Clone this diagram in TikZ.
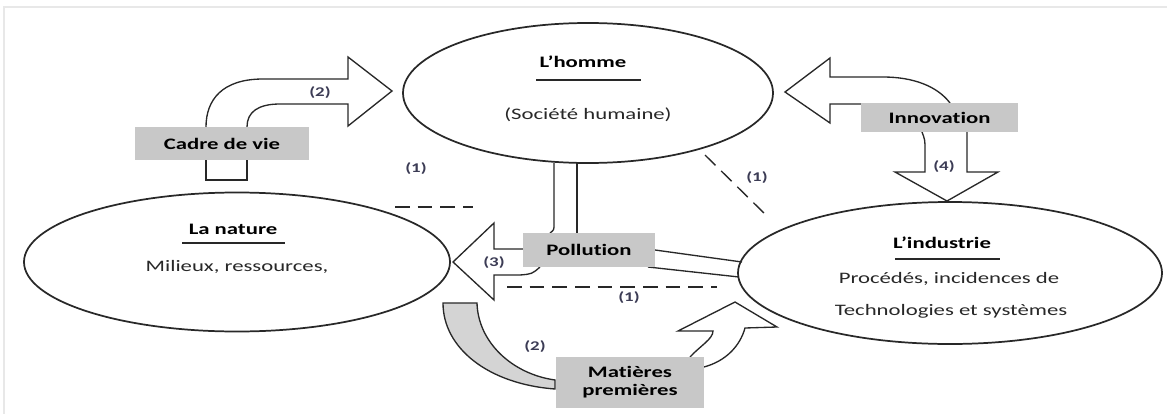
\documentclass[tikz,border=0pt]{standalone}
\usepackage{fontspec}
\setmainfont{Carlito}[FakeStretch=1.42, Ligatures=NoCommon]
\usetikzlibrary{shapes.geometric}
\definecolor{boxgray}{RGB}{200,200,200}
\definecolor{bandgray}{RGB}{212,212,212}
\definecolor{ink}{RGB}{40,40,40}
\definecolor{numink}{RGB}{60,60,85}
\definecolor{framegray}{RGB}{232,232,232}

\begin{document}
\begin{tikzpicture}[x=0.75pt,y=-0.75pt,
  pole/.style={ellipse, draw=ink, line width=1.3pt, inner sep=0pt, outer sep=0pt},
  tag/.style={fill=boxgray, inner sep=0pt, outer sep=0pt, align=center,
    font=\bfseries\fontsize{12}{13.5}\selectfont, text=black},
  block/.style={draw=ink, line width=1pt, line join=miter},
  link/.style={draw=ink, line width=1pt, dash pattern=on 11pt off 6pt},
  num/.style={font=\bfseries\fontsize{10}{12}\selectfont, text=numink, inner sep=0pt},
  title/.style={font=\bfseries\fontsize{12}{14}\selectfont, text=black, inner sep=0pt},
  body/.style={font=\fontsize{12}{14}\selectfont, text=ink, inner sep=0pt},
  rule/.style={draw=ink, line width=1.2pt}]

\useasboundingbox (0,0) rectangle (1167,414);
\fill[white] (0,0) rectangle (1167,414);
% faint page frame
\draw[framegray, line width=0.8pt] (4,414) -- (4,7) -- (1167,7);

% the three poles
\node[pole, minimum width=370*0.75pt, minimum height=140*0.75pt] (homme) at (588,93) {};
\node[pole, minimum width=426*0.75pt, minimum height=139*0.75pt] (nature) at (237,262) {};
\node[pole, minimum width=424*0.75pt, minimum height=142*0.75pt] (industrie) at (950,273) {};

% texts of the poles
\node[title] (hommeT) at (583,62) {L’homme};
\draw[rule] (536,80) -- (641,80);
\node[body] (hommeB) at (588,115) {(Société humaine)};

\node[title] (natureT) at (233,229) {La nature};
\draw[rule] (182,243) -- (285,243);
\node[body] (natureB) at (237,267) {Milieux, ressources,};

\node[title] (industrieT) at (942,243) {L’industrie};
\draw[rule] (895,259) -- (1000,259);
\node[body] (industrieB1) at (949,279) {Procédés, incidences de};
\node[body] (industrieB2) at (951,311) {Technologies et systèmes};

% block arrow: cadre de vie -> homme
\draw[block] (206,127) .. controls (206,100) and (222,79) .. (263,79) -- (348,79)
  -- (348,57) -- (392,91) -- (348,126) -- (348,104) -- (280,104)
  .. controls (258,104) and (247,112) .. (247,127);
\draw[block] (206,160) -- (206,180) -- (247,180) -- (247,160);

% block arrow: innovation -> homme
\draw[block] (950,103) .. controls (937,86) and (913,77) .. (883,77) -- (830,77)
  -- (830,58) -- (785,92) -- (830,123) -- (830,104) -- (861,104);
% block arrow: innovation -> industrie
\draw[block] (922,132) .. controls (925,140) .. (925,150) -- (925,172) -- (895,172)
  -- (947,201) -- (998,172) -- (967,172) -- (967,132);

% pipe from homme down to pollution
\draw[block] (554,163) -- (554,224) .. controls (554,230) .. (550,233);
\draw[block] (577,163) -- (577,233);
% block arrow: pollution -> nature
\draw[block] (523,249) -- (494,249) -- (494,223) -- (453,262) -- (494,300)
  -- (494,275) -- (520,275) .. controls (532,274) .. (540,267);
% pipe from industrie to pollution
\draw[block] (655,250) -- (742,262);
\draw[block] (648,267) -- (739,277);

% curved band: nature -> matieres premieres
\filldraw[block, fill=bandgray] (443,303) -- (477,303)
  .. controls (478,342) and (512,374) .. (555,380) -- (555,389)
  .. controls (488,384) and (443,348) .. (443,303) -- cycle;
% block arrow: matieres premieres -> industrie
\draw[block] (690,357) .. controls (700,346) and (713,339) .. (713,331) -- (678,331)
  -- (735,302) -- (777,327) -- (745,328)
  .. controls (740,346) and (726,361) .. (704,367);

% dashed links
\draw[link] (395,207) -- (473,207);
\draw[link] (705,155) -- (768,217);
\draw[link] (507,287) -- (717,287);

% grey labels
\node[tag, minimum width=174*0.75pt, minimum height=33*0.75pt] (cadre) at (222,143.5) {Cadre de vie};
\node[tag, minimum width=157*0.75pt, minimum height=29*0.75pt] (innov) at (939.5,117.5) {Innovation};
\node[tag, minimum width=132*0.75pt, minimum height=34*0.75pt] (pollution) at (589,250) {Pollution};
\node[tag, minimum width=148*0.75pt, minimum height=51*0.75pt] (matieres) at (630,382.5) {Matières\\premières};

% numbered relations
\node[num] (n2a) at (320,93) {(2)};
\node[num] (n1a) at (416,169) {(1)};
\node[num] (n1b) at (757,178) {(1)};
\node[num] (n4) at (944,167) {(4)};
\node[num] (n3) at (494,263) {(3)};
\node[num] (n1c) at (629,298) {(1)};
\node[num] (n2b) at (535,347) {(2)};
\end{tikzpicture}
\end{document}
